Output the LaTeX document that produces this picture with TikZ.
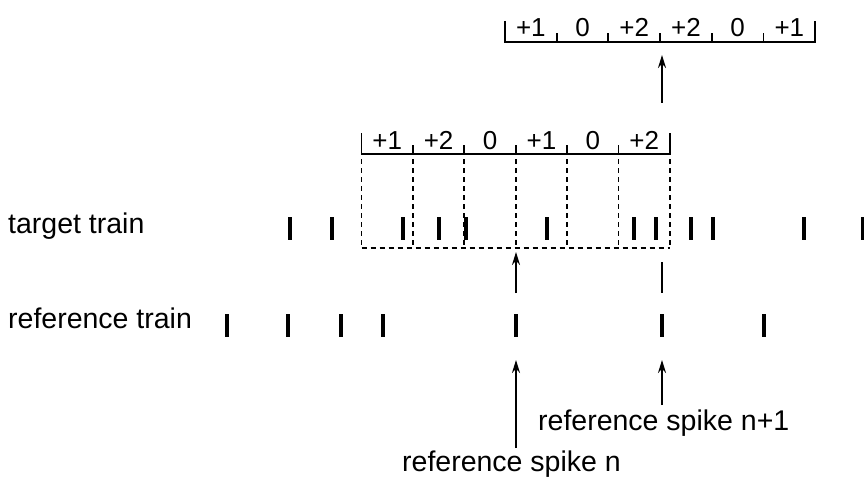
\documentclass[tikz,border=0pt]{standalone}
\usepackage{fontspec}
\setmainfont{Liberation Sans}
\usetikzlibrary{arrows.meta,positioning}

\begin{document}
\begin{tikzpicture}[x=1pt, y=-1pt,
    spike/.style={line width=4.5pt},
    ruler/.style={line width=1.9pt},
    guide/.style={dash pattern=on 5pt off 4pt, line width=1.7pt},
    pointer/.style={-{Stealth[length=13pt, width=8pt]}, line width=1.9pt},
    lbl/.style={font=\fontsize{28.5}{30}\selectfont, inner sep=0pt},
    cell/.style={font=\fontsize{26}{28}\selectfont, inner sep=0pt}]
        \useasboundingbox (0,0) rectangle (864,484);
        % Train labels
        \node[lbl, anchor=base west] (targetlbl) at (8,233) {target train};
        \node[lbl, anchor=base west] (reflbl) at (8,328) {reference train};
        % Spike trains
        \foreach \x in {290,332,403,439,466,547,634,656,691,713,804,863} {
          \draw[spike] (\x,217) -- (\x,240);
        }
        \foreach \x in {227,288,341,383,516,662,764} {
          \draw[spike] (\x,314) -- (\x,337);
        }
        % Upper window (around spike n+1)
        \draw[ruler] (505,21) -- (505,42) -- (815.2,42) -- (815.2,21);
        \foreach \i/\l in {0/+1, 1/0, 2/+2, 3/+2, 4/0, 5/+1} {
          \draw[ruler] ({505+51.7*\i},42) -- ({505+51.7*\i},33);
          \node[cell, anchor=base] at ({505+51.7*(\i+0.5)},37) {\l};
        }
        % Lower window (around spike n)
        \draw[ruler] (361.5,133) -- (361.5,154) -- (670,154) -- (670,133);
        \foreach \i/\l in {0/+1, 1/+2, 2/0, 3/+1, 4/0, 5/+2} {
          \draw[ruler] ({361.5+51.4*\i},154) -- ({361.5+51.4*\i},145);
          \node[cell, anchor=base] at ({361.5+51.4*(\i+0.5)},149.5) {\l};
        }
        \foreach \i in {0,...,6} {
          \draw[guide] ({361.5+51.4*\i},159) -- ({361.5+51.4*\i},248);
        }
        \draw[guide] (361.5,248) -- (670,248);
        % Pointers
        \coordinate (upTail) at (662,103);
        \coordinate (upTip) at (662,55);
        \coordinate (midTail) at (516,293);
        \coordinate (midTip) at (516,252);
        \coordinate (nextTop) at (662,262);
        \coordinate (nextBot) at (662,293);
        \draw[pointer] (upTail) -- (upTip);
        \draw[pointer] (midTail) -- (midTip);
        \draw[line width=1.9pt] (nextTop) -- (nextBot);
        % Reference spike labels
        \node[lbl, anchor=base west] (spikeNext) at (538,430) {reference spike n+1};
        \node[lbl, anchor=base west] (spikeN) at (402,471.5) {reference spike n};
        \coordinate (nTail) at (516,448);
        \coordinate (nTip) at (516,360);
        \coordinate (nextTail) at (662,405);
        \coordinate (nextTip) at (662,360);
        \draw[pointer] (nTail) -- (nTip);
        \draw[pointer] (nextTail) -- (nextTip);
      \end{tikzpicture}
\end{document}
